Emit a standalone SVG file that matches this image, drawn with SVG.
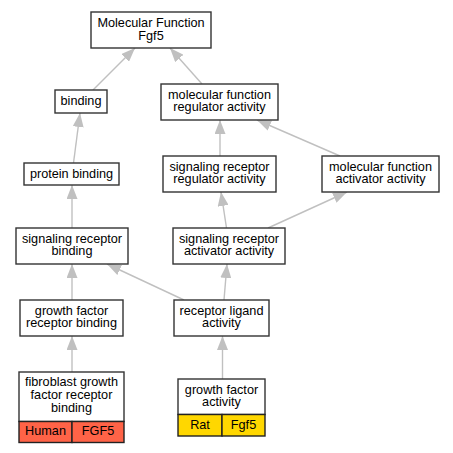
<svg xmlns="http://www.w3.org/2000/svg" width="453" height="453" viewBox="0 0 453 453">
<defs>
<marker id="arr" viewBox="0 0 14 11" refX="14" refY="5.5" markerWidth="14" markerHeight="11" markerUnits="userSpaceOnUse" orient="auto">
<path d="M0,0 L14,5.5 L0,11 z" fill="#c0c0c0"/>
</marker>
<style>
.box{fill:#ffffff;stroke:#333333;stroke-width:1.4}
.hum{fill:#ff6347;stroke:#222222;stroke-width:1.4}
.rat{fill:#ffd700;stroke:#222222;stroke-width:1.4}
text{font-family:"Liberation Sans",Arial,sans-serif;font-size:12.7px;fill:#000000;text-anchor:middle}
.edge{stroke:#c0c0c0;stroke-width:1.4;fill:none;marker-end:url(#arr)}
</style>
</defs>
<rect width="453" height="453" fill="#ffffff"/>
<g id="edges">
<line class="edge" x1="93" y1="90" x2="135" y2="48"/>
<line class="edge" x1="202" y1="84" x2="170" y2="48"/>
<line class="edge" x1="73.5" y1="163" x2="80" y2="113"/>
<line class="edge" x1="72" y1="228" x2="72" y2="185"/>
<line class="edge" x1="220" y1="156" x2="220" y2="120"/>
<line class="edge" x1="340" y1="156" x2="257" y2="120"/>
<line class="edge" x1="226.5" y1="228" x2="221" y2="192"/>
<line class="edge" x1="268" y1="228" x2="347" y2="192"/>
<line class="edge" x1="72" y1="300" x2="72" y2="264"/>
<line class="edge" x1="184" y1="300" x2="107" y2="264"/>
<line class="edge" x1="224" y1="300" x2="227" y2="264"/>
<line class="edge" x1="72" y1="372" x2="72" y2="336"/>
<line class="edge" x1="222.5" y1="379" x2="222.5" y2="336"/>
</g>
<g id="mf">
<rect class="box" x="91" y="12" width="120" height="36"/>
<text x="151" y="27">Molecular Function</text>
<text x="151" y="39.5">Fgf5</text>
</g>
<g id="binding">
<rect class="box" x="55" y="90" width="52" height="23"/>
<text x="81" y="104.5">binding</text>
</g>
<g id="protein_binding">
<rect class="box" x="24" y="163" width="95" height="22"/>
<text x="71.5" y="177.5">protein binding</text>
</g>
<g id="mfra">
<rect class="box" x="161" y="84" width="117" height="36"/>
<text x="219.5" y="98.5">molecular function</text>
<text x="219.5" y="111">regulator activity</text>
</g>
<g id="srra">
<rect class="box" x="163" y="156" width="113" height="36"/>
<text x="219.5" y="170.5">signaling receptor</text>
<text x="219.5" y="183">regulator activity</text>
</g>
<g id="mfaa">
<rect class="box" x="322" y="156" width="117" height="36"/>
<text x="380.5" y="170.5">molecular function</text>
<text x="380.5" y="183">activator activity</text>
</g>
<g id="srb">
<rect class="box" x="16" y="228" width="112" height="36"/>
<text x="72" y="242.5">signaling receptor</text>
<text x="72" y="255">binding</text>
</g>
<g id="sraa">
<rect class="box" x="173" y="228" width="112" height="36"/>
<text x="229" y="242.5">signaling receptor</text>
<text x="229" y="255">activator activity</text>
</g>
<g id="gfrb">
<rect class="box" x="20" y="300" width="103" height="36"/>
<text x="71.5" y="314.5">growth factor</text>
<text x="71.5" y="327">receptor binding</text>
</g>
<g id="rla">
<rect class="box" x="174" y="300" width="95" height="36"/>
<text x="221.5" y="314.5">receptor ligand</text>
<text x="221.5" y="327">activity</text>
</g>
<g id="fgfrb">
<rect class="box" x="19" y="372" width="105" height="49.5"/>
<rect class="hum" x="19" y="421.5" width="53" height="21"/>
<rect class="hum" x="72" y="421.5" width="52" height="21"/>
<text x="71.5" y="385.5">fibroblast growth</text>
<text x="71.5" y="398.5">factor receptor</text>
<text x="71.5" y="411.5">binding</text>
<text x="45.5" y="435">Human</text>
<text x="98" y="435">FGF5</text>
</g>
<g id="gfa">
<rect class="box" x="178" y="379" width="87" height="35.5"/>
<rect class="rat" x="178" y="414.5" width="44" height="21.5"/>
<rect class="rat" x="222" y="414.5" width="43" height="21.5"/>
<text x="221.5" y="393.5">growth factor</text>
<text x="221.5" y="406">activity</text>
<text x="200" y="428.5">Rat</text>
<text x="243.5" y="428.5">Fgf5</text>
</g>
</svg>
